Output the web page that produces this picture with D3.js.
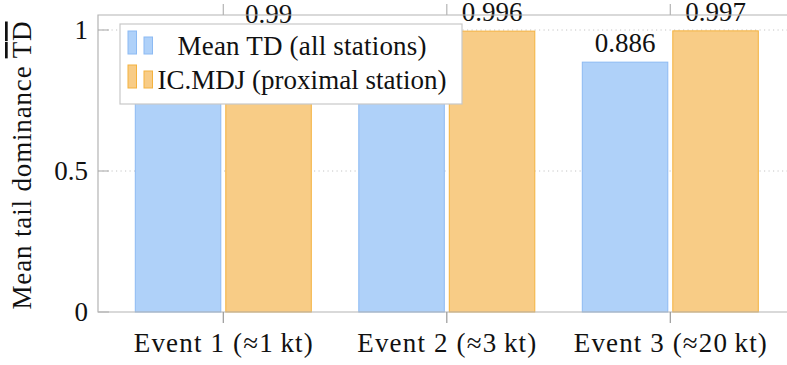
<!DOCTYPE html>
<html>
<head>
<meta charset="utf-8">
<script src="https://cdn.jsdelivr.net/npm/d3@7"></script>
<style>
  html, body { margin: 0; padding: 0; background: #fff; overflow: hidden; }
  text { font-family: "Liberation Serif", "Times New Roman", serif; fill: #111; }
</style>
</head>
<body>
<div id="chart"></div>
<script>
const events = ["Event 1 (\u22481\u2009kt)", "Event 2 (\u22483\u2009kt)", "Event 3 (\u224820\u2009kt)"];
const meanTD = [0.853, 0.874, 0.886];
const mdjTD = [0.99, 0.996, 0.997];
// labels of the first two blue bars sit under the legend in the original
const meanLabels = [null, null, "0.886"];
const mdjLabels = ["0.99", "0.996", "0.997"];
const seriesNames = ["Mean TD (all stations)", "IC.MDJ (proximal station)"];
const yTicks = [0, 0.5, 1];
const yTickLabels = ["0", "0.5", "1"];

const W = 787, H = 365;
const plot = { left: 98, top: 15, bottom: 312 };
const step = 223.5;
const barW = 85.5, barGap = 2.5;
const fs = "27px";

const colors = {
    blueFill: "#afd1f9", blueStroke: "#8cbaf3",
    orangeFill: "#f8cc86", orangeStroke: "#f4b23e",
    axis: "#b4b4b4", grid: "#c4c4c4"
};

const svg = d3.select("#chart")
    .append("svg")
    .attr("width", W)
    .attr("height", H);

const x = d3.scalePoint()
    .domain(events)
    .range([plot.left + 125.3, plot.left + 125.3 + step * (events.length - 1)]);

const y = d3.scaleLinear()
    .domain([0, 1.0532])
    .range([plot.bottom, plot.top]);

const plotRight = x(events[events.length - 1]) + 125.3;

// Grid (dotted)
svg.append("g")
    .selectAll("line")
    .data(yTicks.filter(d => d > 0))
    .enter()
    .append("line")
    .attr("x1", plot.left)
    .attr("x2", plotRight)
    .attr("y1", d => y(d))
    .attr("y2", d => y(d))
    .attr("stroke", colors.grid)
    .attr("stroke-width", 1)
    .attr("stroke-dasharray", "1.2 3.3");

// Bars + value labels
const bars = svg.append("g");
events.forEach((ev, i) => {
    const cx = x(ev);
    bars.append("rect")
        .attr("x", cx - barGap - barW)
        .attr("y", y(meanTD[i]))
        .attr("width", barW)
        .attr("height", y(0) - y(meanTD[i]))
        .attr("fill", colors.blueFill)
        .attr("stroke", colors.blueStroke)
        .attr("stroke-width", 1);
    bars.append("rect")
        .attr("x", cx + barGap)
        .attr("y", y(mdjTD[i]))
        .attr("width", barW)
        .attr("height", y(0) - y(mdjTD[i]))
        .attr("fill", colors.orangeFill)
        .attr("stroke", colors.orangeStroke)
        .attr("stroke-width", 1);

    if (meanLabels[i]) {
        svg.append("text")
            .attr("x", cx - barGap - barW / 2)
            .attr("y", y(meanTD[i]) - 10)
            .attr("text-anchor", "middle")
            .attr("font-size", fs)
            .text(meanLabels[i]);
    }
    svg.append("text")
        .attr("x", cx + barGap + barW / 2)
        .attr("y", y(mdjTD[i]) - 10)
        .attr("text-anchor", "middle")
        .attr("font-size", fs)
        .text(mdjLabels[i]);
});

// Axis frame
svg.append("path")
    .attr("d", `M${plotRight},${plot.top}H${plot.left}V${plot.bottom}H${plotRight}`)
    .attr("fill", "none")
    .attr("stroke", colors.axis)
    .attr("stroke-width", 1.2);

// Y ticks (inward) and labels
yTicks.forEach((t, i) => {
    svg.append("line")
        .attr("x1", plot.left)
        .attr("x2", plot.left + 11)
        .attr("y1", y(t))
        .attr("y2", y(t))
        .attr("stroke", colors.axis)
        .attr("stroke-width", 1.2);
    svg.append("text")
        .attr("x", 88)
        .attr("y", y(t) + 9)
        .attr("text-anchor", "end")
        .attr("font-size", fs)
        .text(yTickLabels[i]);
});

// X ticks (outward, bottom and top) and labels
events.forEach(ev => {
    svg.append("line")
        .attr("x1", x(ev)).attr("x2", x(ev))
        .attr("y1", plot.bottom).attr("y2", plot.bottom + 11)
        .attr("stroke", "#999").attr("stroke-width", 1.2);
    svg.append("line")
        .attr("x1", x(ev)).attr("x2", x(ev))
        .attr("y1", plot.top).attr("y2", plot.top - 11)
        .attr("stroke", colors.axis).attr("stroke-width", 1.2);
    svg.append("text")
        .attr("x", x(ev))
        .attr("y", 352)
        .attr("text-anchor", "middle")
        .attr("font-size", fs)
        .attr("textLength", ev.length > 15 ? 193 : 179)
        .attr("lengthAdjust", "spacing")
        .text(ev);
});

// Y axis title
const yTitle = svg.append("text")
    .attr("transform", `translate(31,${(plot.top + plot.bottom) / 2 + 2}) rotate(-90)`)
    .attr("text-anchor", "middle")
    .attr("font-size", fs)
    .attr("textLength", 288)
    .attr("lengthAdjust", "spacing");
yTitle.append("tspan").text("Mean tail dominance ");
yTitle.append("tspan").style("text-decoration", "overline").text("TD");

// Legend
const legend = svg.append("g");
legend.append("rect")
    .attr("x", 120).attr("y", 24)
    .attr("width", 342).attr("height", 80)
    .attr("fill", "#fff")
    .attr("stroke", "#c8c8c8")
    .attr("stroke-width", 1.2);

const legendColors = [
    [colors.blueFill, colors.blueStroke],
    [colors.orangeFill, colors.orangeStroke]
];
const legendWidths = [249, 289];
seriesNames.forEach((name, i) => {
    const base = 54 + i * 34;
    legend.append("rect")
        .attr("x", 128).attr("y", base - 23)
        .attr("width", 8.5).attr("height", 23)
        .attr("fill", legendColors[i][0]).attr("stroke", legendColors[i][1]);
    legend.append("rect")
        .attr("x", 144).attr("y", base - 17)
        .attr("width", 8.5).attr("height", 17)
        .attr("fill", legendColors[i][0]).attr("stroke", legendColors[i][1]);
    legend.append("text")
        .attr("x", 302)
        .attr("y", base + 1)
        .attr("text-anchor", "middle")
        .attr("font-size", fs)
        .attr("textLength", legendWidths[i])
        .attr("lengthAdjust", "spacing")
        .text(name);
});
</script>
</body>
</html>
